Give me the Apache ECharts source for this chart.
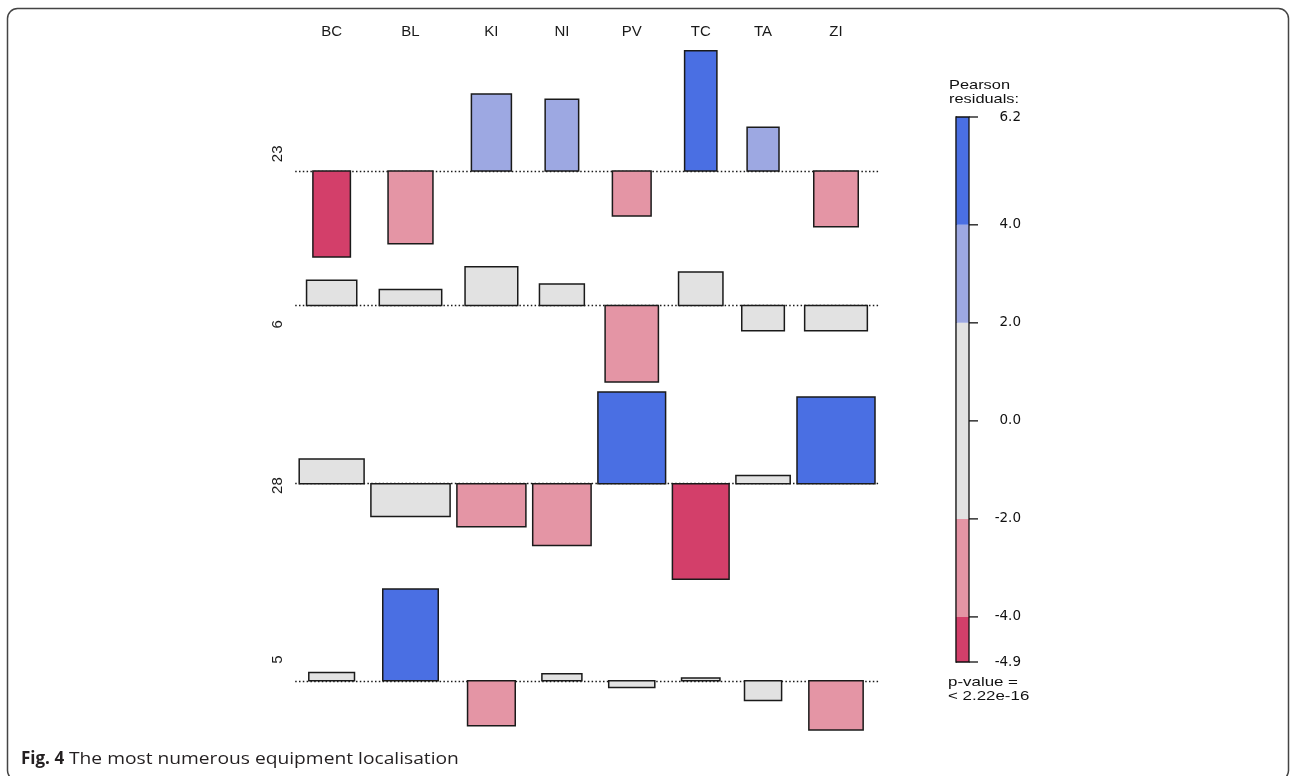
<!DOCTYPE html>
<html><head><meta charset="utf-8">
<script src="https://cdn.jsdelivr.net/npm/echarts@6/dist/echarts.min.js"></script>
<style>html,body{margin:0;padding:0;background:#fff;}#c{width:1292px;height:776px;}</style>
</head><body><div id="c"></div>
<script>
// ---- data ----
const columns = ['BC','BL','KI','NI','PV','TC','TA','ZI'];
const rows = ['23','6','28','5'];
// Pearson residuals (bar heights)
const residuals = [
  [-4.43, -3.75,  3.97,  3.70, -2.32,  6.20,  2.25, -2.87],
  [ 1.30,  0.82,  1.99,  1.10, -3.95,  1.72, -1.30, -1.30],
  [ 1.27, -1.69, -2.22, -3.18,  4.73, -4.92,  0.43,  4.47],
  [ 0.43,  4.73, -2.32,  0.36, -0.35,  0.15, -1.02, -2.53]
];
// square root of expected frequencies (relative bar widths)
const sqrtExpected = [
  [3.75, 4.49, 4.00, 3.35, 3.87, 3.23, 3.19, 4.45],
  [5.02, 6.24, 5.27, 4.49, 5.33, 4.44, 4.26, 6.27],
  [6.49, 7.92, 6.90, 5.84, 6.77, 5.67, 5.43, 7.80],
  [4.57, 5.55, 4.77, 4.00, 4.61, 3.84, 3.71, 5.43]
];
const legendTicks = [6.2, 4.0, 2.0, 0.0, -2.0, -4.0, -4.92];
const legendBreaks = [-4.92, -4, -2, 2, 4, 6.2];
const legendTitle = 'Pearson\nresiduals:';
const pValueText = 'p-value =\n< 2.22e-16';
const captionBold = 'Fig. 4';
const captionText = 'The most numerous equipment localisation';

// ---- styling / layout ----
const COLORS = {pos2:'#4A6FE3', pos1:'#9DA8E2', mid:'#E2E2E2', neg1:'#E495A5', neg2:'#D33F6A'};
function colorFor(r){
  if (r >= 4) return COLORS.pos2;
  if (r >= 2) return COLORS.pos1;
  if (r > -2) return COLORS.mid;
  if (r > -4) return COLORS.neg1;
  return COLORS.neg2;
}
const COL_GAP = 0.68, PAD = 0.4, PX_X = 10, PX_Y = 19.4, ROW_GAP = 9.9;
const PLOT_LEFT = 295.2, PLOT_TOP = 50.7;
const FONT = 'Liberation Sans, Arial, sans-serif';
const TICK_LEN = 9;

const colWidths = columns.map((_, j) => Math.max(...sqrtExpected.map(r => r[j])));
const colCenters = [];
let xCursor = 0;
colWidths.forEach(w => { colCenters.push(xCursor + w / 2); xCursor += w + COL_GAP; });
const totalW = xCursor - COL_GAP;
const xMin = -PAD, xMax = totalW + PAD;
const gridWidth = (xMax - xMin) * PX_X;

const grids = [], xAxes = [], yAxes = [], series = [];
let yCursor = PLOT_TOP;
rows.forEach((rowName, i) => {
  const maxPos = Math.max(0, ...residuals[i]);
  const maxNeg = Math.max(0, ...residuals[i].map(v => -v));
  const h = (maxPos + maxNeg) * PX_Y;
  grids.push({left: PLOT_LEFT, top: yCursor, width: gridWidth, height: h});
  yCursor += h + ROW_GAP;
  xAxes.push({
    type: 'value', gridIndex: i, min: xMin, max: xMax,
    show: i === 0, position: 'top',
    axisLine: {show: false}, axisTick: {show: false}, splitLine: {show: false},
    axisLabel: {
      show: i === 0, customValues: colCenters, margin: 11,
      fontSize: 15, color: '#1a1a1a', fontFamily: FONT,
      formatter: v => {
        let best = 0;
        colCenters.forEach((c, k) => { if (Math.abs(c - v) < Math.abs(colCenters[best] - v)) best = k; });
        return columns[best];
      }
    }
  });
  yAxes.push({
    type: 'value', gridIndex: i, min: -maxNeg, max: maxPos,
    axisLine: {show: false}, axisTick: {show: false}, axisLabel: {show: false}, splitLine: {show: false},
    name: rowName, nameLocation: 'middle', nameGap: 10, nameRotate: 90,
    nameTextStyle: {fontSize: 15, color: '#1a1a1a', fontFamily: FONT}
  });
  series.push({
    type: 'custom', xAxisIndex: i, yAxisIndex: i, z: 10,
    data: columns.map((c, j) => [colCenters[j] - sqrtExpected[i][j] / 2, colCenters[j] + sqrtExpected[i][j] / 2, residuals[i][j]]),
    encode: {x: [0, 1], y: 2},
    renderItem: (params, api) => {
      const x0 = api.value(0), x1 = api.value(1), r = api.value(2);
      const p0 = api.coord([x0, r]), p1 = api.coord([x1, 0]);
      return {
        type: 'rect',
        shape: {x: p0[0], y: Math.min(p0[1], p1[1]), width: p1[0] - p0[0], height: Math.abs(p1[1] - p0[1])},
        style: {fill: colorFor(r), stroke: '#1a1a1a', lineWidth: 1.5}
      };
    },
    markLine: {
      silent: true, symbol: ['none', 'none'], label: {show: false}, z: 1,
      lineStyle: {type: [1.5, 2.3], color: '#1a1a1a', width: 1.4},
      emphasis: {disabled: true},
      data: [{yAxis: 0}]
    }
  });
});

// legend colour bar
const LI = rows.length;
grids.push({left: 956, top: 117, width: 13, height: 545});
xAxes.push({type: 'value', gridIndex: LI, min: 0, max: 1, show: false});
yAxes.push({
  type: 'value', gridIndex: LI, position: 'right',
  min: Math.min(...legendTicks), max: Math.max(...legendTicks),
  axisLine: {show: true, lineStyle: {color: '#111', width: 1.3}},
  axisTick: {show: false},
  axisLabel: {customValues: legendTicks, formatter: v => v.toFixed(1), align: 'right', margin: 52,
              fontSize: 13.5, fontFamily: 'DejaVu Sans, sans-serif', color: '#111'},
  splitLine: {show: false}
});
const legendData = [];
for (let k = 0; k < legendBreaks.length - 1; k++) legendData.push([0, 1, legendBreaks[k], legendBreaks[k + 1], 0]);
legendData.push([0, 1, legendBreaks[0], legendBreaks[legendBreaks.length - 1], 1]);
series.push({
  type: 'custom', xAxisIndex: LI, yAxisIndex: LI, z: 10,
  data: legendData, encode: {x: [0, 1], y: [2, 3]},
  renderItem: (params, api) => {
    const lo = api.value(2), hi = api.value(3), frame = api.value(4);
    const p0 = api.coord([api.value(0), hi]), p1 = api.coord([api.value(1), lo]);
    const shape = {x: p0[0], y: p0[1], width: p1[0] - p0[0], height: p1[1] - p0[1]};
    if (frame) {
      const children = [{type: 'rect', shape: shape, style: {fill: 'none', stroke: '#111', lineWidth: 1.3}}];
      legendTicks.forEach(t => {
        const p = api.coord([1, t]);
        children.push({type: 'line', shape: {x1: p[0], y1: p[1], x2: p[0] + TICK_LEN, y2: p[1]},
                       style: {stroke: '#111', lineWidth: 1.3}});
      });
      return {type: 'group', z2: 5, children: children};
    }
    return {type: 'rect', shape: shape, style: {fill: colorFor((lo + hi) / 2), stroke: null}};
  }
});

const chart = echarts.init(document.getElementById('c'), null, {renderer: 'canvas'});
chart.setOption({
  animation: false,
  backgroundColor: '#fff',
  grid: grids, xAxis: xAxes, yAxis: yAxes, series: series,
  graphic: [
    {type: 'rect', shape: {x: 7.5, y: 8.5, width: 1281, height: 772, r: 10},
     style: {fill: 'none', stroke: '#444', lineWidth: 1.5}, z: 0, silent: true},
    {type: 'text', x: 949, y: 92.5, scaleX: 1.26, z: 20,
     style: {text: legendTitle, fontSize: 13, lineHeight: 13.5, fontFamily: FONT, fill: '#111', verticalAlign: 'middle', align: 'left'}},
    {type: 'text', x: 948, y: 689.5, scaleX: 1.3, z: 20,
     style: {text: pValueText, fontSize: 13, lineHeight: 13.5, fontFamily: FONT, fill: '#111', verticalAlign: 'middle', align: 'left'}},
    {type: 'text', x: 21, y: 759, z: 20,
     style: {text: captionBold, fontSize: 17, fontWeight: 'bold', fontFamily: 'Open Sans, sans-serif', fill: '#231f20',
             verticalAlign: 'middle', align: 'left'}},
    {type: 'text', x: 69, y: 759, scaleX: 1.13, z: 20,
     style: {text: captionText, fontSize: 17, fontFamily: 'Open Sans, sans-serif', fill: '#231f20',
             verticalAlign: 'middle', align: 'left'}}
  ]
});
</script></body></html>
